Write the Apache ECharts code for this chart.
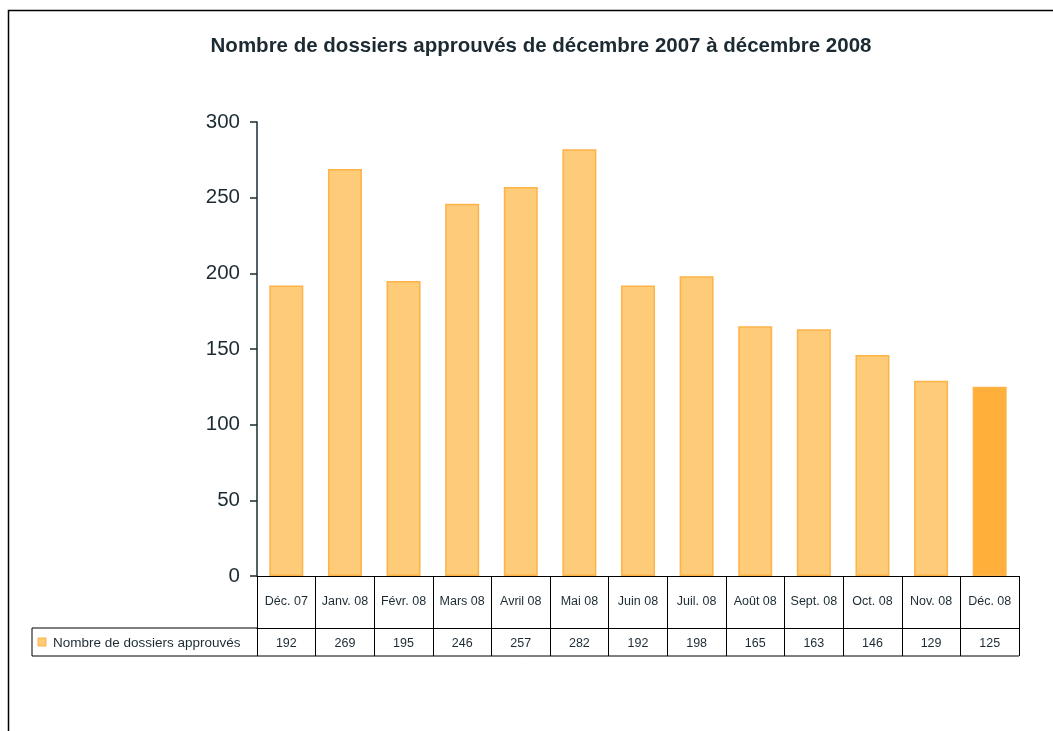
<!DOCTYPE html>
<html><head><meta charset="utf-8">
<script src="https://cdn.jsdelivr.net/npm/echarts@6/dist/echarts.min.js"></script>
<style>html,body{margin:0;padding:0;background:#fff}#c{width:1053px;height:731px}</style>
</head><body><div id="c"></div>
<script>
var categories = ['Déc. 07','Janv. 08','Févr. 08','Mars 08','Avril 08','Mai 08','Juin 08','Juil. 08','Août 08','Sept. 08','Oct. 08','Nov. 08','Déc. 08'];
var values = [192, 269, 195, 246, 257, 282, 192, 198, 165, 163, 146, 129, 125];
var yTicks = [0, 50, 100, 150, 200, 250, 300];
var seriesName = 'Nombre de dossiers approuvés';
var titleText = 'Nombre de dossiers approuvés de décembre 2007 à décembre 2008';

var chart = echarts.init(document.getElementById('c'));
var txt = '#1c2b33';
var font = 'Liberation Sans, Arial, sans-serif';
var barData = values.map(function(v, i){
  return i === values.length - 1 ? {value: v, itemStyle: {color: '#FFAF3A', borderColor: '#FDB347'}} : v;
});
chart.setOption({
  animation: false,
  title: {text: titleText, left: 536, top: 31, textAlign: 'center',
    textStyle: {fontFamily: font, fontSize: 20.5, fontWeight: 'bold', color: txt}},
  grid: {left: 257, right: 34, top: 122, bottom: 155},
  xAxis: [{
    type: 'category', data: categories, position: 'bottom',
    axisLine: {lineStyle: {color: '#000', width: 1}},
    axisTick: {show: true, length: 52, lineStyle: {color: '#000'}},
    axisLabel: {margin: 19, fontFamily: font, fontSize: 12.5, color: txt, interval: 0}
  }, {
    type: 'category', data: values.map(String), position: 'bottom', offset: 52,
    axisLine: {lineStyle: {color: '#000', width: 1}},
    axisTick: {show: true, length: 28, lineStyle: {color: '#000'}},
    axisLabel: {margin: 9, fontFamily: font, fontSize: 12.5, color: txt, interval: 0}
  }],
  yAxis: {
    type: 'value', min: 0, max: 300, interval: 50,
    axisLine: {show: true, lineStyle: {color: '#1c2b33', width: 1.5}},
    axisTick: {show: true, length: 7, lineStyle: {color: '#1c2b33', width: 1.5}},
    splitLine: {show: false},
    axisLabel: {margin: 17, fontFamily: font, fontSize: 20.5, color: txt,
      formatter: function(v){ return yTicks.indexOf(v) >= 0 ? String(v) : ''; }}
  },
  series: [{
    type: 'bar', name: seriesName, data: barData, xAxisIndex: 0, barWidth: '58%',
    itemStyle: {color: '#FECB78', borderColor: '#FDB347', borderWidth: 1.5}
  }]
});

var p0 = chart.convertToPixel({gridIndex: 0}, [0, 0]);
var gridLeft = 257, gridRight = 1053 - 34;
var yAxisY = p0[1];
var row1 = yAxisY + 52, row2 = yAxisY + 80;
var legendLeft = 32;
chart.setOption({
  graphic: [
    {type: 'rect', shape: {x: 8.5, y: 10.5, width: 1200, height: 900}, style: {fill: 'none', stroke: '#000', lineWidth: 1.5}, silent: true},
    {type: 'line', shape: {x1: legendLeft, y1: row1, x2: gridLeft, y2: row1}, style: {stroke: '#000', lineWidth: 1}},
    {type: 'line', shape: {x1: legendLeft, y1: row2, x2: gridRight, y2: row2}, style: {stroke: '#000', lineWidth: 1}},
    {type: 'line', shape: {x1: legendLeft, y1: row1, x2: legendLeft, y2: row2}, style: {stroke: '#000', lineWidth: 1}},
    {type: 'rect', shape: {x: legendLeft + 6, y: row1 + 10, width: 8, height: 8}, style: {fill: '#FECB78', stroke: '#FDB347', lineWidth: 1}},
    {type: 'text', x: legendLeft + 21, y: (row1 + row2) / 2 + 1, style: {text: seriesName, font: '13.5px ' + font, fill: txt, textVerticalAlign: 'middle', verticalAlign: 'middle'}}
  ]
});
</script></body></html>
